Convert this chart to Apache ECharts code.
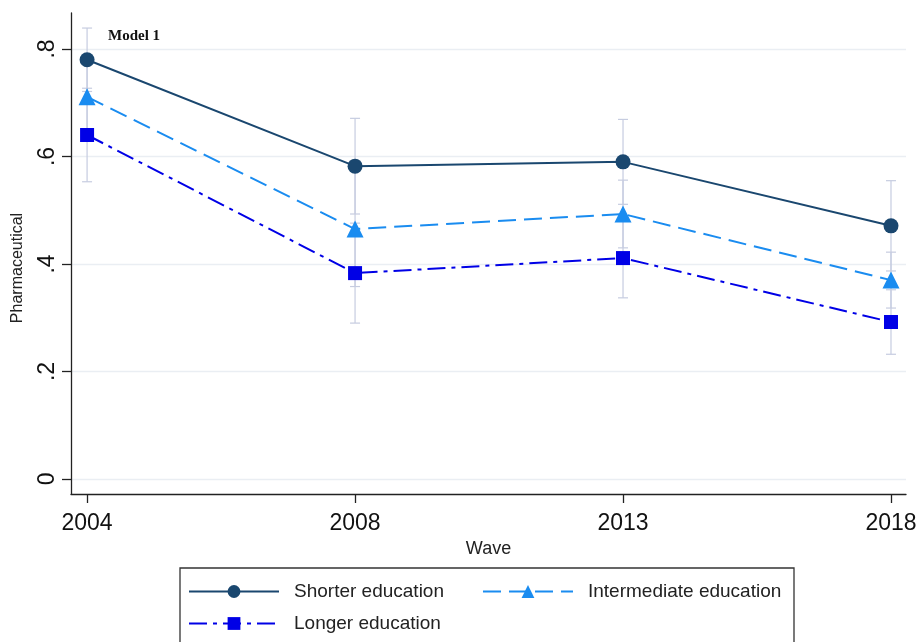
<!DOCTYPE html>
<html>
<head>
<meta charset="utf-8">
<script src="https://cdn.jsdelivr.net/npm/echarts@6/dist/echarts.min.js"></script>
<style>
  html, body { margin: 0; padding: 0; background: #fff; }
  #chart { width: 919px; height: 642px; }
</style>
</head>
<body>
<div id="chart"></div>
<script>
// Survey waves on the x axis
const waves = ['2004', '2008', '2013', '2018'];

// Predicted share using pharmaceuticals, by education level
const shorterEdu = [0.780, 0.582, 0.590, 0.471];
const intermediateEdu = [0.711, 0.465, 0.493, 0.370];
const longerEdu = [0.640, 0.383, 0.411, 0.292];

// 95% confidence intervals [low, high] per wave
const shorterCI = [[0.721, 0.839], [0.493, 0.671], [0.511, 0.669], [0.387, 0.555]];
const intermediateCI = [[0.642, 0.780], [0.358, 0.572], [0.430, 0.556], [0.318, 0.422]];
const longerCI = [[0.553, 0.727], [0.290, 0.476], [0.337, 0.485], [0.232, 0.352]];

const yTicks = [0, 0.2, 0.4, 0.6, 0.8];

const seriesNames = ['Shorter education', 'Intermediate education', 'Longer education'];
const colors = ['#1a476f', '#1a8cf0', '#0000e6'];

const toPoints = vals => vals.map((v, i) => [i, v]);
const ciRows = cis => cis.map((c, i) => [i, c[0], c[1]]);

function ciItem(params, api) {
  const x = api.value(0);
  const lo = api.coord([x, api.value(1)]);
  const hi = api.coord([x, api.value(2)]);
  const cap = 5;
  const style = { stroke: '#c6cce0', lineWidth: 1.2, fill: null };
  return {
    type: 'group',
    children: [
      { type: 'line', shape: { x1: lo[0], y1: lo[1], x2: hi[0], y2: hi[1] }, style },
      { type: 'line', shape: { x1: hi[0] - cap, y1: hi[1], x2: hi[0] + cap, y2: hi[1] }, style },
      { type: 'line', shape: { x1: lo[0] - cap, y1: lo[1], x2: lo[0] + cap, y2: lo[1] }, style }
    ]
  };
}

const lineDashes = ['solid', [18, 8], [18, 6, 4, 6]];
const symbols = ['circle', 'triangle', 'rect'];
const symbolSizes = [15, 17, 14];
const values = [shorterEdu, intermediateEdu, longerEdu];
const cis = [shorterCI, intermediateCI, longerCI];

const series = [];
cis.forEach((c, k) => {
  series.push({
    type: 'custom',
    name: 'ci' + k,
    renderItem: ciItem,
    data: ciRows(c),
    z: 1,
    silent: true
  });
});
values.forEach((v, k) => {
  series.push({
    type: 'line',
    name: seriesNames[k],
    data: toPoints(v),
    symbol: symbols[k],
    symbolSize: symbolSizes[k],
    showSymbol: true,
    lineStyle: { color: colors[k], width: 2, type: lineDashes[k] },
    itemStyle: { color: colors[k] },
    z: 3 + k,
    animation: false
  });
});

const font = 'Liberation Sans, Arial, sans-serif';

const chart = echarts.init(document.getElementById('chart'), null, { renderer: 'canvas' });
chart.setOption({
  backgroundColor: '#ffffff',
  animation: false,
  grid: { left: 71, right: 13, top: 13, bottom: 148, containLabel: false, outerBoundsMode: 'none' },
  xAxis: {
    type: 'value',
    min: -0.06,
    max: 3.056,
    name: 'Wave',
    nameLocation: 'middle',
    nameGap: 43,
    nameTextStyle: { fontFamily: font, fontSize: 18, color: '#222' },
    axisLine: { show: true, onZero: false, lineStyle: { color: '#222', width: 1.3 } },
    axisTick: { show: true, length: 9, customValues: [0, 1, 2, 3], lineStyle: { color: '#222', width: 1.3 } },
    axisLabel: {
      customValues: [0, 1, 2, 3],
      formatter: v => waves[Math.round(v)],
      fontFamily: font, fontSize: 23, color: '#111', margin: 18
    },
    splitLine: { show: false }
  },
  yAxis: {
    type: 'value',
    min: -0.028,
    max: 0.867,
    axisLine: { show: true, onZero: false, lineStyle: { color: '#222', width: 1.3 } },
    axisTick: { show: true, length: 9, customValues: yTicks, lineStyle: { color: '#222', width: 1.3 } },
    axisLabel: {
      customValues: yTicks,
      rotate: 90,
      formatter: v => (v === 0 ? '0' : String(+v.toFixed(1)).replace(/^0\./, '.')),
      fontFamily: font, fontSize: 23, color: '#111', margin: 12
    },
    splitLine: { show: true, lineStyle: { color: '#eaeef3', width: 1.3 } }
  },
  legend: [
    {
      data: ['Shorter education', 'Intermediate education'],
      left: 188, top: 582, padding: 0,
      itemWidth: 90, itemHeight: 16, itemGap: 38,
      textStyle: { fontFamily: font, fontSize: 19, color: '#222', padding: [0, 0, 0, 10] }
    },
    {
      data: ['Longer education'],
      left: 188, top: 614, padding: 0,
      itemWidth: 90, itemHeight: 16,
      textStyle: { fontFamily: font, fontSize: 19, color: '#222', padding: [0, 0, 0, 10] }
    }
  ],
  graphic: [
    {
      type: 'rect',
      shape: { x: 180, y: 568, width: 614, height: 90 },
      style: { fill: null, stroke: '#333', lineWidth: 1.3 },
      silent: true
    },
    {
      type: 'text',
      x: 18, y: 268, rotation: Math.PI / 2,
      style: {
        text: 'Pharmaceutical', font: '16px "Liberation Sans", Arial, sans-serif',
        fill: '#222', align: 'center', verticalAlign: 'middle'
      },
      silent: true
    },
    {
      type: 'text',
      left: 108, top: 29,
      style: { text: 'Model 1', font: 'bold 15px "Liberation Serif", "Times New Roman", serif', fill: '#111' }
    }
  ],
  series
});
</script>
</body>
</html>
